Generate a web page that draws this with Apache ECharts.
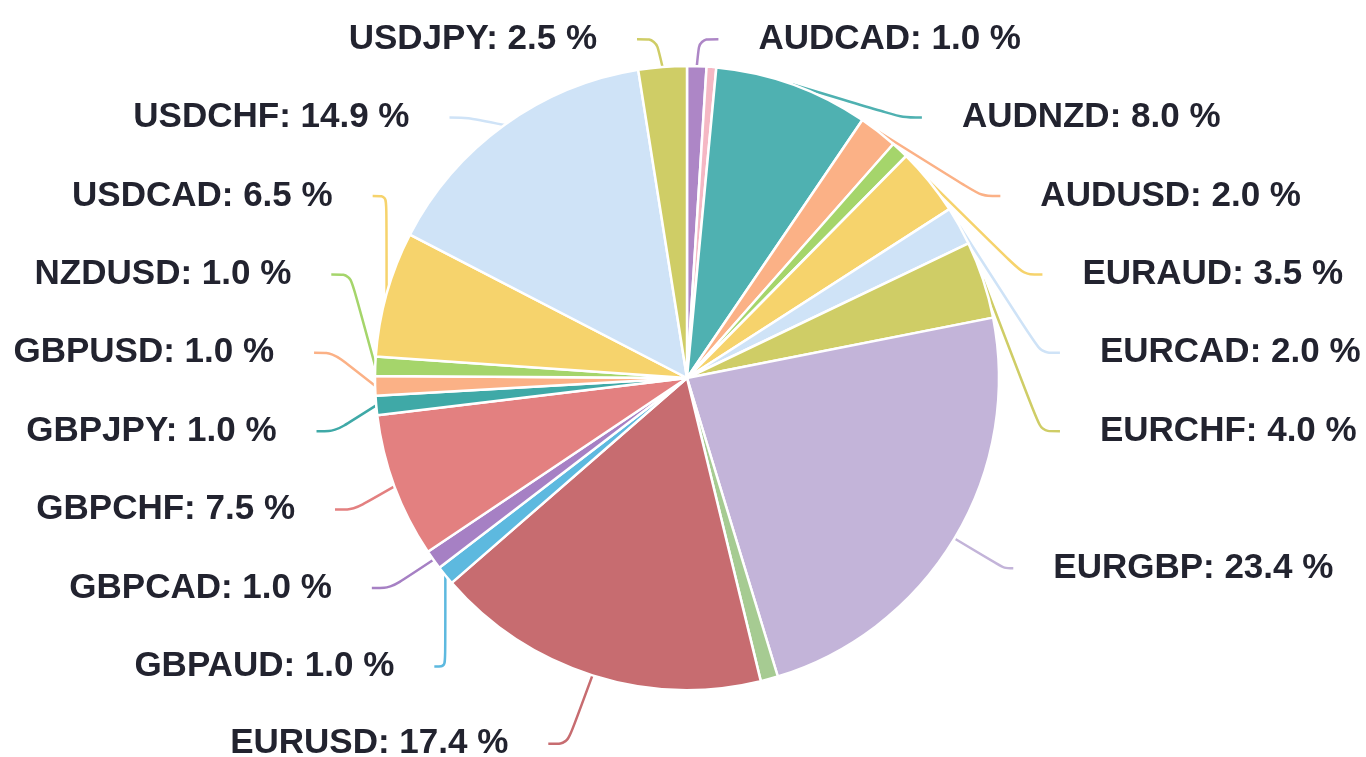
<!DOCTYPE html>
<html>
<head>
<meta charset="utf-8">
<title>Pie</title>
<script src="https://cdn.jsdelivr.net/npm/echarts@6/dist/echarts.min.js"></script>
<style>
  html, body { margin: 0; padding: 0; background: #fff; }
  #main { width: 1366px; height: 757px; }
</style>
</head>
<body>
<div id="main"></div>
<script>
// 货币对 (clockwise from 12 o'clock)
var pairs  = ['AUDCAD', 'AUDJPY', 'AUDNZD', 'AUDUSD', 'CADJPY', 'EURAUD', 'EURCAD', 'EURCHF', 'EURGBP', 'EURJPY',
              'EURUSD', 'GBPAUD', 'GBPCAD', 'GBPCHF', 'GBPJPY', 'GBPUSD', 'NZDUSD', 'USDCAD', 'USDCHF', 'USDJPY'];
// 占比 %
var shares = [1.0, 0.5, 8.0, 2.0, 0.9, 3.5, 2.0, 4.0, 23.4, 0.9,
              17.4, 1.0, 1.0, 7.5, 1.0, 1.0, 1.0, 6.5, 14.9, 2.5];
// slices whose label is not shown in the picture
var hidden = ['AUDJPY', 'CADJPY', 'EURJPY'];
var colors = ['#ad86c6', '#f5b8c4', '#4fb1b1', '#fbb186', '#a5d56b', '#f6d36c', '#cfe3f7', '#cfcd66', '#c3b4d9', '#a6cb92',
              '#c76c70', '#5db9df', '#a680c4', '#e38080', '#3fa9a7', '#fbb186', '#a5d56b', '#f6d36c', '#cfe3f7', '#cfcd66'];

var data = [];
for (var i = 0; i < pairs.length; i++) {
    var item = {name: pairs[i], value: shares[i], itemStyle: {color: colors[i]}};
    if (hidden.indexOf(pairs[i]) >= 0) {
        item.label = {show: false};
        item.labelLine = {show: false};
    }
    // EURGBP sits alone on the lower right, shorter leader
    if (pairs[i] == 'EURGBP') {
        item.label = {padding: [19.2, 0, 19.2, 0]};
        item.labelLine = {length: 58, length2: 9};
    }
    data.push(item);
}

var myChart = echarts.init(document.getElementById('main'));
var option = {
    animation: false,
    series: [{
        type: 'pie',
        // series box a bit taller than the canvas so the 10 left labels fit
        top: 0,
        bottom: -27,
        center: [687, 378],
        radius: 312,
        startAngle: 90,
        clockwise: true,
        avoidLabelOverlap: true,
        bleedMargin: 0,
        labelLayout: {hideOverlap: false},
        itemStyle: {
            borderColor: '#fff',
            borderWidth: 2.5
        },
        label: {
            show: true,
            formatter: function (p) {
                return p.name + ': ' + p.value.toFixed(1) + ' %';
            },
            color: '#22232f',
            fontFamily: 'Liberation Sans, Arial, sans-serif',
            fontWeight: 'bold',
            fontSize: 35,
            lineHeight: 38,
            padding: [10.2, 0, 28.2, 0],
            overflow: 'none',
            distanceToLabelLine: 40
        },
        labelLine: {
            show: true,
            length: 83,
            length2: 19,
            smooth: 0.3,
            lineStyle: {width: 2.5}
        },
        data: data
    }]
};
myChart.setOption(option);
</script>
</body>
</html>
